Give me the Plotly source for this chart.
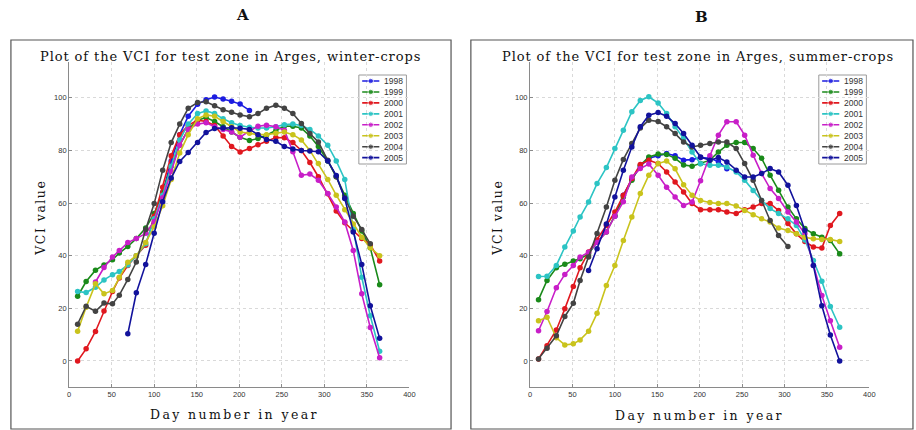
import plotly.graph_objects as go

W, H = 916, 430

days = [10, 20, 31, 41, 51, 59, 69, 79, 90, 100, 110, 120, 130, 140, 151, 161, 171, 181,
        191, 201, 212, 222, 232, 243, 253, 263, 273, 283, 293, 304, 314, 324, 334, 344, 354, 365]
years = ["1998", "1999", "2000", "2001", "2002", "2003", "2004", "2005"]
colors = ["#1c1ce0", "#1a8a1a", "#e0181f", "#2cc4c4", "#c81ec8", "#c9c31c", "#434343", "#12129c"]
N = None

# Panel A: winter crops
a_1998 = [N]*9 + [52, 64, 76, 86, 93, 97.5, 99.3, 100.3, 99.5, 98.7, 97.6, 95.2] + [N]*15
a_1999 = [24.6, 30.2, 34.5, 36.5, 38.5, 41, 43.5, 46.5, 50.5, 56, 64, 74, 82, 88, 91.5, 92.5, 91, 89,
          87, 85, 83.8, 84.5, 85.8, 87.5, 89.3, 89.2, 88.5, 85.5, 81.5, 76, 70, 63, 56, 49.4, 43, 29]
a_2000 = [0, 4.6, 11.2, 19, 26.4, 31.5, 36.3, 40, 44, 55, 66, 78, 86, 89.5, 91.5, 91, 89.5, 85.5,
          81.5, 79.4, 80.7, 82.2, 83.5, 84.9, 84.8, 83, 80, 75.4, 70, 63.5, 57, 52.5, 49.5, 46.5, 44.2, 38]
a_2001 = [26.4, 26.0, 28, 30.8, 32.8, 34, 36.5, 40, 44.5, 54, 63, 74, 84, 90, 94, 95, 94, 92,
          90.5, 89.5, 88.8, 88.5, 88.5, 89, 89.8, 90, 89.5, 88, 85.5, 82, 76, 69, 50, 31.8, 17.2, 3.7]
a_2002 = [N, N, 30, 35.5, 39.5, 42, 45, 46.5, 48.5, 53, 62, 72, 82, 88, 90, 90.5, 89, 88,
          87, 85, 87.4, 89.2, 89.6, 89, 87.7, 79.5, 70.6, 71, 68.7, 63.6, 58.5, 52.8, 42, 25.5, 12.7, 1.2]
a_2003 = [11.3, 20.4, 29.3, 25.5, 26.8, 31.8, 37.5, 40, 45, 51, 59, 69, 79, 86, 92, 93.5, 93, 91,
          89, 87, 86.5, 86, 86, 86.5, 87, 86, 84, 80, 75, 69, 63, 57.5, 52, 47, 43, 40]
a_2004 = [14, 20.8, 18.9, 22, 21.7, 25, 31, 37.6, 50, 59.8, 72.5, 83, 90, 96, 98.2, 98.5, 97, 95.5,
          94.5, 93.5, 92.8, 94, 96, 97.2, 96, 94, 90.2, 86.4, 83.2, 76.3, 70, 62, 55, 50, 44.5, N]
a_2005 = [N]*6 + [10.3, 25.9, 36.7, 48.5, 60.5, 69.5, 75.8, 79.2, 83, 86.8, 88.3, 88.5, 88.6, 88.4,
                  88.0, 86, 84.2, 83.5, 81.5, 80.5, 80, 79.8, 79.5, 76, 70.5, 61.7, 49, 36.7, 21, 8.6]

# Panel B: summer crops
b_1998 = [N]*9 + [55, 63, 69, 74, 77, 78, 78.8, 78, 76.3, 76.5, 77.3, 77, 75.8, 73] + [N]*13
b_1999 = [23.3, 30.6, 35.4, 36.8, 38, 38.8, 40.7, 45.2, 49, 55.3, 62.3, 68.7, 74.4, 77.5, 78.6, 78.5, 77, 74.5,
          74, 75, 76.3, 79.4, 82, 83, 83, 80.7, 77, 70.6, 64.9, 58.5, 54, 50.3, 48.3, 47, 45.8, 40.7]
b_2000 = [0.8, 5.8, 11.8, 19.8, 28.3, 35.4, 41.4, 46, 51.5, 56.6, 63, 69.3, 74.7, 76.3, 75, 71.8, 68, 64.2,
          59.8, 57.5, 57.5, 57.5, 56.6, 56, 57.5, 58.5, 59.8, 59.8, 57.2, 52.2, 48.3, 45.4, 43.3, 42.9, 51.5, 56]
b_2001 = [32.1, 32.2, 36.3, 43.3, 49.4, 54.7, 60.4, 67.4, 73.5, 80.7, 87.7, 94.7, 99, 100.4, 98, 94, 89, 84.5,
          79.4, 74.9, 74.4, 74.4, 73.7, 71.8, 68.7, 64.8, 61, 57.9, 56, 54, 51.5, 46, 38.2, 30.3, 20.7, 12.8]
b_2002 = [11.5, 18.8, 27.8, 32.9, 36.3, 39.5, 41.3, 45, 49, 55, 60.5, 69.9, 73.1, 74.8, 70.6, 66, 62.3, 59.1,
          60.4, 68.5, 78, 85.8, 90.9, 90.9, 85.8, 78.2, 71.2, 65.5, 61.7, 56.6, 52.8, 48.3, 36.3, 24.9, 15.3, 5.2]
b_2003 = [15.3, 16.6, 8.8, 6.1, 6.5, 8, 11.3, 18.1, 28.7, 36.3, 45.8, 54.7, 63.6, 70.6, 75, 76, 73, 67,
          63, 61, 60.2, 59.8, 59.8, 58.9, 57.2, 55.6, 54, 52.8, 50.5, 49.6, 48.3, 47, 46.4, 46.2, 46.2, 45.4]
b_2004 = [0.8, 4.8, 9.6, 16.9, 21.9, 30.6, 39.5, 48.4, 58.5, 68.7, 76.6, 82.6, 88.5, 91.5, 91, 89, 86.4, 83.2,
          81.3, 82, 82.6, 83.2, 83.2, 80.7, 75, 68.7, 61, 53.4, 47.7, 43.5] + [N]*6
b_2005 = [N]*6 + [34.4, 42.6, 52, 62.3, 72.5, 81.3, 89, 93.4, 94.4, 93, 90.2, 86.4, 82, 77.5, 76.3, 77.3,
                  75.6, 72.5, 69.9, 69.9, 71.2, 73.1, 71.8, 66.8, 59.1, 49.6, 36.3, 21, 9.9, 0]

panel_a = [a_1998, a_1999, a_2000, a_2001, a_2002, a_2003, a_2004, a_2005]
panel_b = [b_1998, b_1999, b_2000, b_2001, b_2002, b_2003, b_2004, b_2005]

x_ticks = [0, 50, 100, 150, 200, 250, 300, 350, 400]
y_ticks = [0, 20, 40, 60, 80, 100]

def px(x):
    return x / W

def py(y):
    return 1 - y / H

fig = go.Figure()

for idx, series_set in enumerate([panel_a, panel_b]):
    xa = "x" if idx == 0 else "x2"
    ya = "y" if idx == 0 else "y2"
    for yr, col, vals in zip(years, colors, series_set):
        fig.add_trace(go.Scatter(
            x=days, y=vals, mode="lines+markers", name=yr, xaxis=xa, yaxis=ya,
            line=dict(color=col, width=1.6), marker=dict(color=col, size=5.5),
            connectgaps=False, showlegend=False))

# custom compact legends (MATLAB style)
leg_boxes = [(360, 408), (824, 872)]
for li, (lx0, lx1) in enumerate(leg_boxes):
    xa = "x%d" % (3 + li)
    ya = "y%d" % (3 + li)
    for i, (yr, col) in enumerate(zip(years, colors)):
        fig.add_trace(go.Scatter(
            x=[0.07, 0.25, 0.43], y=[i, i, i], mode="lines+markers", xaxis=xa, yaxis=ya,
            line=dict(color=col, width=1.6), marker=dict(color=col, size=[0, 5.5, 0]),
            showlegend=False, hoverinfo="skip"))
        fig.add_annotation(x=0.49, y=i, xref=xa, yref=ya, text=yr, showarrow=False,
                           xanchor="left", yanchor="middle",
                           font=dict(family="Liberation Sans, Arial", size=8.5, color="#333"))

tick_font = dict(family="Liberation Sans, Arial", size=7.5, color="#333")
common_x = dict(range=[0, 400], tickvals=x_ticks, showgrid=True, gridcolor="#d9d9d9", griddash="dot",
                gridwidth=1, zeroline=False, showline=True, linecolor="#8a8a8a", linewidth=1,
                ticks="inside", ticklen=3, tickcolor="#8a8a8a", tickfont=tick_font)
common_y = dict(range=[-10, 113.6], tickvals=y_ticks, showgrid=True, gridcolor="#d9d9d9", griddash="dot",
                gridwidth=1, zeroline=False, showline=True, linecolor="#8a8a8a", linewidth=1,
                ticks="inside", ticklen=3, tickcolor="#8a8a8a", tickfont=tick_font)

ydom = [py(387.3), py(62)]
leg_ydom = [py(164), py(75)]
hidden = dict(visible=False, fixedrange=True)

fig.update_layout(
    width=W, height=H, margin=dict(l=0, r=0, t=0, b=0),
    paper_bgcolor="white", plot_bgcolor="rgba(0,0,0,0)",
    xaxis=dict(domain=[px(67.7), px(411)], anchor="y", **common_x),
    yaxis=dict(domain=ydom, anchor="x", **common_y),
    xaxis2=dict(domain=[px(532.7), px(875)], anchor="y2", **common_x),
    yaxis2=dict(domain=ydom, anchor="x2", **common_y),
    xaxis3=dict(domain=[px(360), px(408)], anchor="y3", range=[0, 1], **hidden),
    yaxis3=dict(domain=leg_ydom, anchor="x3", range=[7.58, -0.548], **hidden),
    xaxis4=dict(domain=[px(824), px(872)], anchor="y4", range=[0, 1], **hidden),
    yaxis4=dict(domain=leg_ydom, anchor="x4", range=[7.58, -0.548], **hidden),
)

shapes = []
# panel frames
shapes.append(dict(type="rect", xref="paper", yref="paper", x0=px(9), x1=px(453), y0=py(429), y1=py(40),
                   line=dict(color="#555", width=1.2), layer="below"))
shapes.append(dict(type="rect", xref="paper", yref="paper", x0=px(473), x1=px(919), y0=py(429), y1=py(40),
                   line=dict(color="#555", width=1.2), layer="below"))
# legend boxes
for lx0, lx1 in leg_boxes:
    shapes.append(dict(type="rect", xref="paper", yref="paper", x0=px(lx0), x1=px(lx1), y0=py(164), y1=py(75),
                       line=dict(color="#9a9a9a", width=1), fillcolor="white", layer="below"))
fig.update_layout(shapes=shapes)

serif = "DejaVu Serif, Liberation Serif, serif"

def spaced(t, ls):
    return '<span style="letter-spacing:%.2fpx">%s</span>' % (ls, t)

ann = [
    dict(text="<b>A</b>", x=px(243), y=py(15), font=dict(family=serif, size=15, color="#111")),
    dict(text="<b>B</b>", x=px(706), y=py(17), font=dict(family=serif, size=15, color="#111")),
    dict(text=spaced("Plot of the VCI for test zone in Arges, winter-crops", 0.9), x=px(231), y=py(57),
         font=dict(family=serif, size=13, color="#111")),
    dict(text=spaced("Plot of the VCI for test zone in Arges, summer-crops", 0.9), x=px(702), y=py(57),
         font=dict(family=serif, size=13, color="#111")),
    dict(text=spaced("Day number in year", 2.4), x=px(235), y=py(414), font=dict(family=serif, size=12.5, color="#111")),
    dict(text=spaced("Day number in year", 2.4), x=px(704), y=py(415), font=dict(family=serif, size=12.5, color="#111")),
    dict(text=spaced("VCI value", 1.5), x=px(38), y=py(218), textangle=-90, font=dict(family=serif, size=12.5, color="#111")),
    dict(text=spaced("VCI value", 1.5), x=px(499), y=py(218), textangle=-90, font=dict(family=serif, size=12.5, color="#111")),
]
for a in ann:
    fig.add_annotation(xref="paper", yref="paper", showarrow=False, xanchor="center", yanchor="middle", **a)

fig.write_html("out.html", config={"displayModeBar": False},
               post_script="document.body.style.margin='0px';document.body.style.overflow='hidden';")
